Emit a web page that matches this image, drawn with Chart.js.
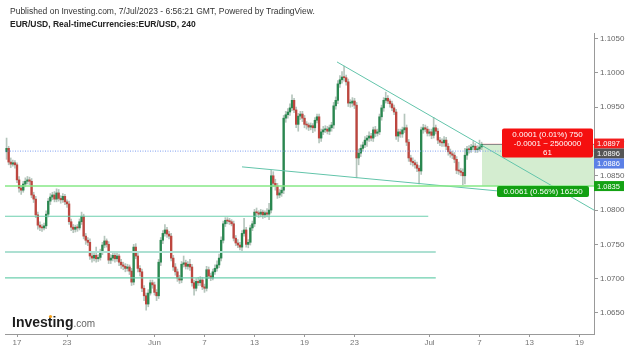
<!DOCTYPE html>
<html>
<head>
<meta charset="utf-8">
<script src="https://cdn.jsdelivr.net/npm/chart.js@4.4.0/dist/chart.umd.min.js"></script>
<style>
  html, body { margin: 0; padding: 0; background: #fff; }
  canvas { display: block; }
</style>
</head>
<body>
<canvas id="grafico" width="625" height="350"></canvas>
<script>
// EUR/USD 4h candles, 16 May -> 7 Jul 2023
const opens = [
  1.0885,1.0890,1.0870,1.0867,1.0869,1.0866,1.0844,1.0832,1.0829,1.0838,
  1.0842,1.0844,1.0842,1.0822,1.0816,1.0793,1.0778,1.0775,1.0774,1.0777,
  1.0794,1.0813,1.0819,1.0822,1.0816,1.0825,1.0817,1.0815,1.0820,1.0812,
  1.0809,1.0783,1.0775,1.0772,1.0775,1.0774,1.0783,1.0791,1.0762,1.0756,
  1.0753,1.0733,1.0730,1.0734,1.0729,1.0731,1.0739,1.0749,1.0755,1.0750,
  1.0727,1.0730,1.0734,1.0729,1.0733,1.0724,1.0720,1.0718,1.0715,1.0717,
  1.0711,1.0695,1.0746,1.0733,1.0715,1.0710,1.0686,1.0675,1.0663,1.0679,
  1.0694,1.0691,1.0680,1.0675,1.0724,1.0756,1.0766,1.0771,1.0765,1.0762,
  1.0730,1.0717,1.0710,1.0701,1.0698,1.0721,1.0723,1.0718,1.0721,1.0717,
  1.0694,1.0686,1.0696,1.0694,1.0698,1.0688,1.0686,1.0713,1.0704,1.0701,
  1.0710,1.0715,1.0720,1.0730,1.0756,1.0780,1.0785,1.0784,1.0783,1.0780,
  1.0759,1.0752,1.0749,1.0746,1.0766,1.0771,1.0750,1.0753,1.0774,1.0780,
  1.0797,1.0796,1.0794,1.0797,1.0793,1.0796,1.0794,1.0800,1.0850,1.0839,
  1.0835,1.0822,1.0825,1.0829,1.0934,1.0939,1.0943,1.0949,1.0960,1.0946,
  1.0925,1.0937,1.0940,1.0934,1.0925,1.0924,1.0921,1.0923,1.0920,1.0931,
  1.0936,1.0905,1.0914,1.0917,1.0918,1.0915,1.0920,1.0924,1.0952,1.0960,
  1.0984,1.0990,1.0994,1.0993,1.0987,1.0956,1.0956,1.0959,1.0953,1.0876,
  1.0883,1.0890,1.0895,1.0902,1.0905,1.0908,1.0905,1.0917,1.0912,1.0914,
  1.0936,1.0949,1.0960,1.0963,1.0959,1.0955,1.0949,1.0943,1.0908,1.0914,
  1.0911,1.0917,1.0920,1.0899,1.0876,1.0871,1.0869,1.0866,1.0861,1.0857,
  1.0917,1.0920,1.0918,1.0912,1.0914,1.0909,1.0920,1.0915,1.0902,1.0899,
  1.0898,1.0902,1.0893,1.0885,1.0882,1.0880,1.0874,1.0858,1.0857,1.0855,
  1.0850,1.0880,1.0889,1.0888,1.0892,1.0893,1.0888,1.0889,1.0892
];
const highs = [
  1.0905,1.0893,1.0876,1.0873,1.0872,1.0869,1.0849,1.0836,1.0842,1.0847,
  1.0849,1.0848,1.0846,1.0826,1.0820,1.0797,1.0783,1.0779,1.0781,1.0799,
  1.0817,1.0824,1.0826,1.0827,1.0831,1.0830,1.0821,1.0824,1.0823,1.0815,
  1.0813,1.0787,1.0779,1.0778,1.0779,1.0787,1.0797,1.0794,1.0766,1.0760,
  1.0758,1.0738,1.0737,1.0746,1.0735,1.0743,1.0753,1.0762,1.0758,1.0754,
  1.0735,1.0738,1.0738,1.0737,1.0736,1.0728,1.0724,1.0722,1.0721,1.0720,
  1.0715,1.0750,1.0751,1.0738,1.0719,1.0714,1.0690,1.0679,1.0684,1.0698,
  1.0698,1.0695,1.0684,1.0728,1.0760,1.0770,1.0779,1.0775,1.0769,1.0766,
  1.0734,1.0722,1.0714,1.0705,1.0725,1.0733,1.0727,1.0725,1.0728,1.0721,
  1.0698,1.0700,1.0702,1.0703,1.0702,1.0692,1.0718,1.0717,1.0708,1.0714,
  1.0720,1.0726,1.0736,1.0761,1.0784,1.0789,1.0789,1.0788,1.0786,1.0784,
  1.0763,1.0757,1.0753,1.0770,1.0788,1.0775,1.0757,1.0778,1.0784,1.0801,
  1.0803,1.0799,1.0801,1.0800,1.0799,1.0802,1.0810,1.0858,1.0856,1.0845,
  1.0839,1.0830,1.0833,1.0938,1.0944,1.0948,1.0955,1.0968,1.0963,1.0950,
  1.0941,1.0944,1.0944,1.0938,1.0929,1.0927,1.0927,1.0926,1.0935,1.0940,
  1.0940,1.0918,1.0922,1.0923,1.0922,1.0924,1.0928,1.0957,1.0965,1.0989,
  1.0996,1.1002,1.1010,1.0997,1.0991,1.0961,1.0964,1.0963,1.0957,1.0889,
  1.0895,1.0899,1.0907,1.0909,1.0914,1.0912,1.0921,1.0922,1.0918,1.0940,
  1.0953,1.0964,1.0972,1.0967,1.0962,1.0959,1.0953,1.0947,1.0918,1.0918,
  1.0921,1.0940,1.0924,1.0903,1.0880,1.0876,1.0873,1.0870,1.0865,1.0921,
  1.0925,1.0924,1.0922,1.0918,1.0918,1.0935,1.0924,1.0919,1.0906,1.0904,
  1.0907,1.0906,1.0897,1.0889,1.0886,1.0884,1.0878,1.0870,1.0861,1.0860,
  1.0890,1.0893,1.0894,1.0896,1.0900,1.0897,1.0894,1.0902,1.0899
];
const lows = [
  1.0874,1.0866,1.0862,1.0864,1.0861,1.0840,1.0826,1.0823,1.0826,1.0834,
  1.0838,1.0837,1.0818,1.0811,1.0789,1.0772,1.0770,1.0769,1.0771,1.0773,
  1.0790,1.0808,1.0815,1.0812,1.0812,1.0813,1.0810,1.0811,1.0808,1.0804,
  1.0779,1.0770,1.0767,1.0768,1.0769,1.0771,1.0779,1.0758,1.0750,1.0748,
  1.0728,1.0724,1.0726,1.0724,1.0725,1.0727,1.0735,1.0745,1.0746,1.0722,
  1.0722,1.0726,1.0724,1.0725,1.0719,1.0715,1.0713,1.0710,1.0711,1.0706,
  1.0690,1.0691,1.0729,1.0710,1.0704,1.0681,1.0668,1.0654,1.0659,1.0676,
  1.0686,1.0676,1.0668,1.0671,1.0719,1.0751,1.0762,1.0760,1.0758,1.0726,
  1.0712,1.0705,1.0696,1.0693,1.0694,1.0717,1.0714,1.0714,1.0712,1.0689,
  1.0676,1.0682,1.0690,1.0690,1.0684,1.0680,1.0682,1.0700,1.0697,1.0698,
  1.0706,1.0711,1.0716,1.0726,1.0752,1.0776,1.0780,1.0779,1.0777,1.0755,
  1.0748,1.0745,1.0742,1.0740,1.0762,1.0746,1.0745,1.0749,1.0770,1.0776,
  1.0791,1.0789,1.0790,1.0788,1.0789,1.0790,1.0786,1.0796,1.0834,1.0829,
  1.0817,1.0818,1.0820,1.0824,1.0928,1.0934,1.0938,1.0945,1.0942,1.0920,
  1.0915,1.0932,1.0929,1.0920,1.0918,1.0916,1.0917,1.0913,1.0915,1.0927,
  1.0898,1.0900,1.0910,1.0913,1.0911,1.0910,1.0915,1.0919,1.0947,1.0955,
  1.0979,1.0985,1.0988,1.0982,1.0951,1.0950,1.0951,1.0948,1.0847,1.0866,
  1.0878,1.0886,1.0891,1.0893,1.0900,1.0901,1.0900,1.0907,1.0908,1.0910,
  1.0931,1.0944,1.0956,1.0955,1.0950,1.0945,1.0939,1.0903,1.0900,1.0906,
  1.0906,1.0913,1.0894,1.0871,1.0866,1.0864,1.0861,1.0856,1.0838,1.0852,
  1.0912,1.0914,1.0908,1.0908,1.0904,1.0905,1.0911,1.0897,1.0894,1.0893,
  1.0893,1.0888,1.0880,1.0877,1.0875,1.0869,1.0853,1.0852,1.0850,1.0837,
  1.0838,1.0874,1.0883,1.0884,1.0888,1.0884,1.0884,1.0886,1.0888
];
const closes = [
  1.0890,1.0870,1.0867,1.0869,1.0866,1.0844,1.0832,1.0829,1.0838,1.0842,
  1.0844,1.0842,1.0822,1.0816,1.0793,1.0778,1.0775,1.0774,1.0777,1.0794,
  1.0813,1.0819,1.0822,1.0816,1.0825,1.0817,1.0815,1.0820,1.0812,1.0809,
  1.0783,1.0775,1.0772,1.0775,1.0774,1.0783,1.0791,1.0762,1.0756,1.0753,
  1.0733,1.0730,1.0734,1.0729,1.0731,1.0739,1.0749,1.0755,1.0750,1.0727,
  1.0730,1.0734,1.0729,1.0733,1.0724,1.0720,1.0718,1.0715,1.0717,1.0711,
  1.0695,1.0746,1.0733,1.0715,1.0710,1.0686,1.0675,1.0663,1.0679,1.0694,
  1.0691,1.0680,1.0675,1.0724,1.0756,1.0766,1.0771,1.0765,1.0762,1.0730,
  1.0717,1.0710,1.0701,1.0698,1.0721,1.0723,1.0718,1.0721,1.0717,1.0694,
  1.0686,1.0696,1.0694,1.0698,1.0688,1.0686,1.0713,1.0704,1.0701,1.0710,
  1.0715,1.0720,1.0730,1.0756,1.0780,1.0785,1.0784,1.0783,1.0780,1.0759,
  1.0752,1.0749,1.0746,1.0766,1.0771,1.0750,1.0753,1.0774,1.0780,1.0797,
  1.0796,1.0794,1.0797,1.0793,1.0796,1.0794,1.0800,1.0850,1.0839,1.0835,
  1.0822,1.0825,1.0829,1.0934,1.0939,1.0943,1.0949,1.0960,1.0946,1.0925,
  1.0937,1.0940,1.0934,1.0925,1.0924,1.0921,1.0923,1.0920,1.0931,1.0936,
  1.0905,1.0914,1.0917,1.0918,1.0915,1.0920,1.0924,1.0952,1.0960,1.0984,
  1.0990,1.0994,1.0993,1.0987,1.0956,1.0956,1.0959,1.0953,1.0876,1.0883,
  1.0890,1.0895,1.0902,1.0905,1.0908,1.0905,1.0917,1.0912,1.0914,1.0936,
  1.0949,1.0960,1.0963,1.0959,1.0955,1.0949,1.0943,1.0908,1.0914,1.0911,
  1.0917,1.0920,1.0899,1.0876,1.0871,1.0869,1.0866,1.0861,1.0857,1.0917,
  1.0920,1.0918,1.0912,1.0914,1.0909,1.0920,1.0915,1.0902,1.0899,1.0898,
  1.0902,1.0893,1.0885,1.0882,1.0880,1.0874,1.0858,1.0857,1.0855,1.0850,
  1.0880,1.0889,1.0888,1.0892,1.0893,1.0888,1.0889,1.0892,1.0896
];

// x axis counts trading days from 17 May (weekends skipped), 6 bars per day
const dayTicks = [0, 4, 11, 15, 19, 23, 27, 33, 37, 41, 45];
const dayLabels = ['17', '23', 'Jun', '7', '13', '19', '23', 'Jul', '7', '13', '19'];
const priceTicks = [1.065, 1.070, 1.075, 1.080, 1.085, 1.090, 1.095, 1.100, 1.105];

// drawings on the chart
const supportLevels = [1.0791, 1.0739, 1.0701];
const supportEnds = [32.9, 33.5, 33.5];
const targetLevel = 1.0835;
const refLevel = 1.0886;
const upperTrend = [[25.6, 1.1016], [46.16, 1.0800]];
const lowerTrend = [[18.0, 1.0863], [38.4, 1.0828]];
const entryPrice = 1.0896, stopPrice = 1.0897;
const positionStart = 37.2;
const stopText = ['0.0001 (0.01%) 750', '-0.0001 ~ 2500000', '61'];
const targetText = '0.0061 (0.56%) 16250';
const axisTags = [
  {value: 1.0897, color: '#f21d1d'},
  {value: 1.0896, color: '#555555'},
  {value: 1.0886, color: '#5b80e6'},
  {value: 1.0835, color: '#14a214'}
];

const FONT = "'Liberation Sans', Arial, sans-serif";
const X_MIN = -0.96, X_MAX = 46.16;
const Y_MIN = 1.06193, Y_MAX = 1.10582;

let barTime = i => (i - 5) / 6;
let wicks = closes.map((c, i) => ({x: barTime(i), y: [lows[i], highs[i]]}));
let bodies = closes.map((c, i) => ({x: barTime(i), y: [opens[i], c]}));
let bodyColors = closes.map((c, i) => c >= opens[i] ? '#2a8750' : '#bd463f');

function lineSet(points, color, width, dash) {
  return {
    type: 'line',
    data: points.map(p => ({x: p[0], y: p[1]})),
    borderColor: color,
    borderWidth: width,
    borderDash: dash || [],
    pointRadius: 0,
    tension: 0,
    order: 0
  };
}

let overlays = [
  lineSet([[X_MIN, targetLevel], [X_MAX, targetLevel]], '#86e886', 1.5),
  lineSet([[X_MIN, refLevel], [X_MAX, refLevel]], '#7f9ff0', 1, [1, 1.5]),
  lineSet([[X_MIN, supportLevels[0]], [supportEnds[0], supportLevels[0]]], '#6ccfae', 1.2),
  lineSet([[X_MIN, supportLevels[1]], [supportEnds[1], supportLevels[1]]], '#ade0d2', 2),
  lineSet([[X_MIN, supportLevels[2]], [supportEnds[2], supportLevels[2]]], '#6ccfae', 1.2),
  lineSet(upperTrend, '#62c4aa', 1),
  lineSet(lowerTrend, '#62c4aa', 1)
];

const decor = {
  id: 'decor',
  beforeDatasetsDraw(chart) {
    const ctx = chart.ctx, x = chart.scales.x, y = chart.scales.y;
    const left = x.getPixelForValue(positionStart), right = chart.chartArea.right;
    const yEntry = y.getPixelForValue(entryPrice);
    const yStop = y.getPixelForValue(stopPrice);
    const yTarget = y.getPixelForValue(targetLevel);
    ctx.save();
    ctx.fillStyle = 'rgba(120,200,110,0.32)';
    ctx.fillRect(left, yEntry, right - left, yTarget - yEntry);
    ctx.fillStyle = 'rgba(240,80,80,0.35)';
    ctx.fillRect(left, yStop, right - left, yEntry - yStop);
    ctx.strokeStyle = '#8a8a8a';
    ctx.lineWidth = 1;
    ctx.beginPath();
    ctx.moveTo(left, Math.round(yStop) + 0.5);
    ctx.lineTo(right, Math.round(yStop) + 0.5);
    ctx.stroke();
    ctx.restore();
  },
  afterDraw(chart) {
    const ctx = chart.ctx, x = chart.scales.x, y = chart.scales.y;
    ctx.save();
    // header
    ctx.fillStyle = '#333';
    ctx.textBaseline = 'alphabetic';
    ctx.font = '8.5px ' + FONT;
    ctx.fillText('Published on Investing.com, 7/Jul/2023 - 6:56:21 GMT, Powered by TradingView.', 10, 14);
    ctx.font = 'bold 8.5px ' + FONT;
    ctx.fillStyle = '#222';
    ctx.fillText('EUR/USD, Real-timeCurrencies:EUR/USD, 240', 10, 27);

    // logo
    ctx.font = 'bold 14px ' + FONT;
    ctx.fillStyle = '#1d1d1d';
    ctx.fillText('Investing', 12, 327);
    const w = ctx.measureText('Investing').width;
    ctx.font = '10px ' + FONT;
    ctx.fillStyle = '#666';
    ctx.fillText('.com', 12 + w, 327);
    ctx.fillStyle = '#f7a21b';
    ctx.beginPath();
    ctx.arc(50.5, 316.5, 1.6, 0, Math.PI * 2);
    ctx.fill();

    // position labels
    const left = x.getPixelForValue(positionStart);
    const yStop = y.getPixelForValue(stopPrice);
    const yTarget = y.getPixelForValue(targetLevel);
    ctx.font = '8px ' + FONT;
    ctx.textAlign = 'center';
    ctx.textBaseline = 'middle';
    ctx.fillStyle = '#f50f0f';
    ctx.beginPath();
    ctx.roundRect(left + 20, yStop - 15, 91, 29, 2);
    ctx.fill();
    ctx.fillStyle = '#fff';
    stopText.forEach((t, k) => ctx.fillText(t, left + 65.5, yStop - 9 + k * 9));
    ctx.fillStyle = '#12a012';
    ctx.beginPath();
    ctx.roundRect(left + 15, yTarget, 92, 11, 2);
    ctx.fill();
    ctx.fillStyle = '#fff';
    ctx.fillText(targetText, left + 61, yTarget + 5.5);

    // price tags on the right axis
    ctx.textAlign = 'left';
    ctx.font = '7.5px ' + FONT;
    let prev = -100;
    axisTags.forEach(tag => {
      let py = y.getPixelForValue(tag.value);
      if (py < prev + 10) py = prev + 10;
      prev = py;
      ctx.fillStyle = tag.color;
      ctx.fillRect(chart.chartArea.right, py - 5, 30, 10);
      ctx.fillStyle = '#fff';
      ctx.fillText(tag.value.toFixed(4), chart.chartArea.right + 3, py + 0.5);
    });
    ctx.restore();
  }
};

Chart.defaults.font.family = FONT;

const grafico = new Chart(document.getElementById('grafico'), {
  type: 'bar',
  data: {
    datasets: [
      ...overlays,
      {
        type: 'bar',
        data: bodies,
        backgroundColor: bodyColors,
        barThickness: 1.7,
        minBarLength: 1,
        grouped: false,
        order: 1
      },
      {
        type: 'bar',
        data: wicks,
        backgroundColor: 'rgba(150,172,160,0.7)',
        barThickness: 1,
        grouped: false,
        order: 2
      }
    ]
  },
  options: {
    responsive: false,
    animation: false,
    devicePixelRatio: 1,
    layout: {padding: {top: 33, left: 5, right: 0, bottom: 0}},
    plugins: {
      legend: {display: false},
      tooltip: {enabled: false}
    },
    scales: {
      x: {
        type: 'linear',
        min: X_MIN,
        max: X_MAX,
        offset: false,
        grid: {drawOnChartArea: false, offset: false, tickLength: 3, color: '#999'},
        border: {color: '#999'},
        ticks: {
          font: {size: 8},
          color: '#777',
          padding: 1,
          maxRotation: 0,
          autoSkip: false,
          callback: v => dayLabels[dayTicks.indexOf(v)]
        },
        afterBuildTicks: s => { s.ticks = dayTicks.map(v => ({value: v})); },
        afterFit: s => { s.height = 16; }
      },
      y: {
        type: 'linear',
        position: 'right',
        min: Y_MIN,
        max: Y_MAX,
        beginAtZero: false,
        grid: {drawOnChartArea: false, tickLength: 4, color: '#999'},
        border: {color: '#999'},
        ticks: {
          font: {size: 8},
          color: '#666',
          padding: 2,
          callback: v => v.toFixed(4)
        },
        afterBuildTicks: s => { s.ticks = priceTicks.map(v => ({value: v})); },
        afterFit: s => { s.width = 31; }
      }
    }
  },
  plugins: [decor]
});
</script>
</body>
</html>
